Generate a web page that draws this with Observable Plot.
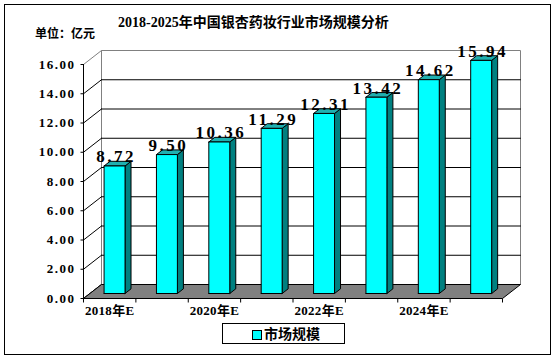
<!DOCTYPE html>
<html><head><meta charset="utf-8">
<script src="https://cdn.jsdelivr.net/npm/d3@7"></script>
<script src="https://cdn.jsdelivr.net/npm/@observablehq/plot@0.6"></script>
<style>
body{margin:0;background:#fff;}
#wrap{position:relative;width:555px;height:360px;overflow:hidden;font-family:"Liberation Serif","Noto Sans CJK SC",serif;}
#frame{position:absolute;left:4px;top:4px;width:547px;height:351px;border:1px solid #000;box-sizing:border-box;}
#title{position:absolute;left:118px;top:14px;font-weight:bold;font-size:14px;line-height:18px;white-space:nowrap;}
#unit{position:absolute;left:35px;top:25px;font-weight:bold;font-size:12px;line-height:16px;white-space:nowrap;font-family:"Noto Sans CJK SC",sans-serif;}
#legend{position:absolute;left:222px;top:323px;width:123px;height:21px;border:1px solid #000;box-sizing:border-box;}
#legend .sw{position:absolute;left:29px;top:6px;width:8px;height:8px;background:#00ffff;border:1px solid #000;}
#legend .lt{position:absolute;left:41px;top:0px;font-size:14px;line-height:19px;font-weight:bold;font-family:"Noto Sans CJK SC",sans-serif;}
#chart{position:absolute;left:0;top:0;}
</style></head>
<body>
<div id="wrap">
  <div id="frame"></div>
  <div id="chart"></div>
  <div id="title">2018-2025年中国银杏药妆行业市场规模分析</div>
  <div id="unit">单位：亿元</div>
  <div id="legend"><div class="sw"></div><div class="lt">市场规模</div></div>
</div>
<script>
const categories = ["2018年E","2019年E","2020年E","2021年E","2022年E","2023年E","2024年E","2025年E"];
const values = [8.72, 9.50, 10.36, 11.29, 12.31, 13.42, 14.62, 15.94];
const yTicks = [0, 2, 4, 6, 8, 10, 12, 14, 16];
const xTickLabels = ["2018年E", "2020年E", "2022年E", "2024年E"];

const W = 555, H = 360, mL = 83, mR = 53, mT = 64, mB = 62;
const N = categories.length, yMax = yTicks[yTicks.length - 1];
const kx = (W - mL - mR) / N, ky = (H - mT - mB) / yMax;
const DX = 18, DY = 14;            // depth of the 3D box in pixels
const P = (x, y, d) => ({x: x + d * DX / kx, y: y + d * DY / ky});
const poly = (id, pts) => [...pts, pts[0]].map(p => ({id, ...p}));

const backWall = poly("bw", [P(0,0,1), P(N,0,1), P(N,yMax,1), P(0,yMax,1)]);
const leftWall = poly("lw", [P(0,0,0), P(0,yMax,0), P(0,yMax,1), P(0,0,1)]);
const floor = poly("fl", [P(0,0,0), P(N,0,0), P(N,0,1), P(0,0,1)]);
const gridRows = yTicks.filter(t => t > 0 && t < yMax).flatMap(t => [{id: t, ...P(0,t,1)}, {id: t, ...P(N,t,1)}]);
const diagRows = yTicks.filter(t => t < yMax).flatMap(t => [{id: t, ...P(0,t,0)}, {id: t, ...P(0,t,1)}]);

const a = 5 / 14, b = a + 1 / 3, bx0 = 0.27, bx1 = 0.67;
const fronts = [], sides = [], tops = [];
values.forEach((v, i) => {
  const x0 = i + bx0, x1 = i + bx1;
  fronts.push(...poly(i, [P(x0,0,a), P(x1,0,a), P(x1,v,a), P(x0,v,a)]));
  sides.push(...poly(i, [P(x1,0,a), P(x1,0,b), P(x1,v,b), P(x1,v,a)]));
  tops.push(...poly(i, [P(x0,v,a), P(x1,v,a), P(x1,v,b), P(x0,v,b)]));
});
const valueLabels = values.map((v, i) => ({...P(i + 0.5, v, a), text: d3.format(".2f")(v)}));
const xLabelRows = xTickLabels.map(l => ({x: categories.indexOf(l) + 0.5, text: l}));

const font = "Liberation Serif, Noto Sans CJK SC, serif";
const L = (data, o) => Plot.line(data, {x: "x", y: "y", z: "id", strokeWidth: 1, strokeLinejoin: "miter", ...o});

const svg = Plot.plot({
  width: W, height: H, marginLeft: mL, marginRight: mR, marginTop: mT, marginBottom: mB,
  x: {domain: [0, N], axis: null},
  y: {domain: [0, yMax], axis: null},
  style: {background: "transparent", overflow: "visible", fontFamily: font},
  marks: [
    L(backWall, {fill: "white", stroke: "#808080"}),
    L(leftWall, {fill: "white", stroke: "#808080"}),
    L(gridRows, {stroke: "black"}),
    L(diagRows, {stroke: "black"}),
    L(floor, {fill: "#808080", stroke: "black"}),
    L(sides, {fill: "#008080", stroke: "black"}),
    L(tops, {fill: "#1fb0b0", stroke: "black"}),
    L(fronts, {fill: "#00ffff", stroke: "black"}),
    Plot.ruleX([0], {y1: 0, y2: yMax, stroke: "black"}),
    Plot.ruleY([0], {x1: 0, x2: N, stroke: "black"}),
    Plot.link(yTicks, {x1: -3 / kx, x2: 0, y1: d => d, y2: d => d, stroke: "black"}),
    Plot.link(d3.range(N + 1), {x1: d => d, x2: d => d, y1: 0, y2: -4 / ky, stroke: "black"}),
    Plot.text(yTicks, {x: 0, y: d => d, text: d => d3.format(".2f")(d), dx: -8, textAnchor: "end", fontWeight: "bold", fontSize: 13, fontFamily: font}),
    Plot.text(xLabelRows, {x: "x", y: 0, text: "text", dy: 12, fontWeight: "bold", fontSize: 13, fontFamily: font}),
    Plot.text(valueLabels, {x: "x", y: "y", text: "text", dy: -9, fontWeight: "bold", fontSize: 17, fontFamily: font})
  ]
});
const tg = svg.querySelectorAll('g[aria-label="text"]');
tg[0].style.letterSpacing = "1.5px";
tg[1].style.letterSpacing = "0.3px";
tg[2].style.letterSpacing = "2.5px";
document.getElementById("chart").appendChild(svg);
</script>
</body></html>
